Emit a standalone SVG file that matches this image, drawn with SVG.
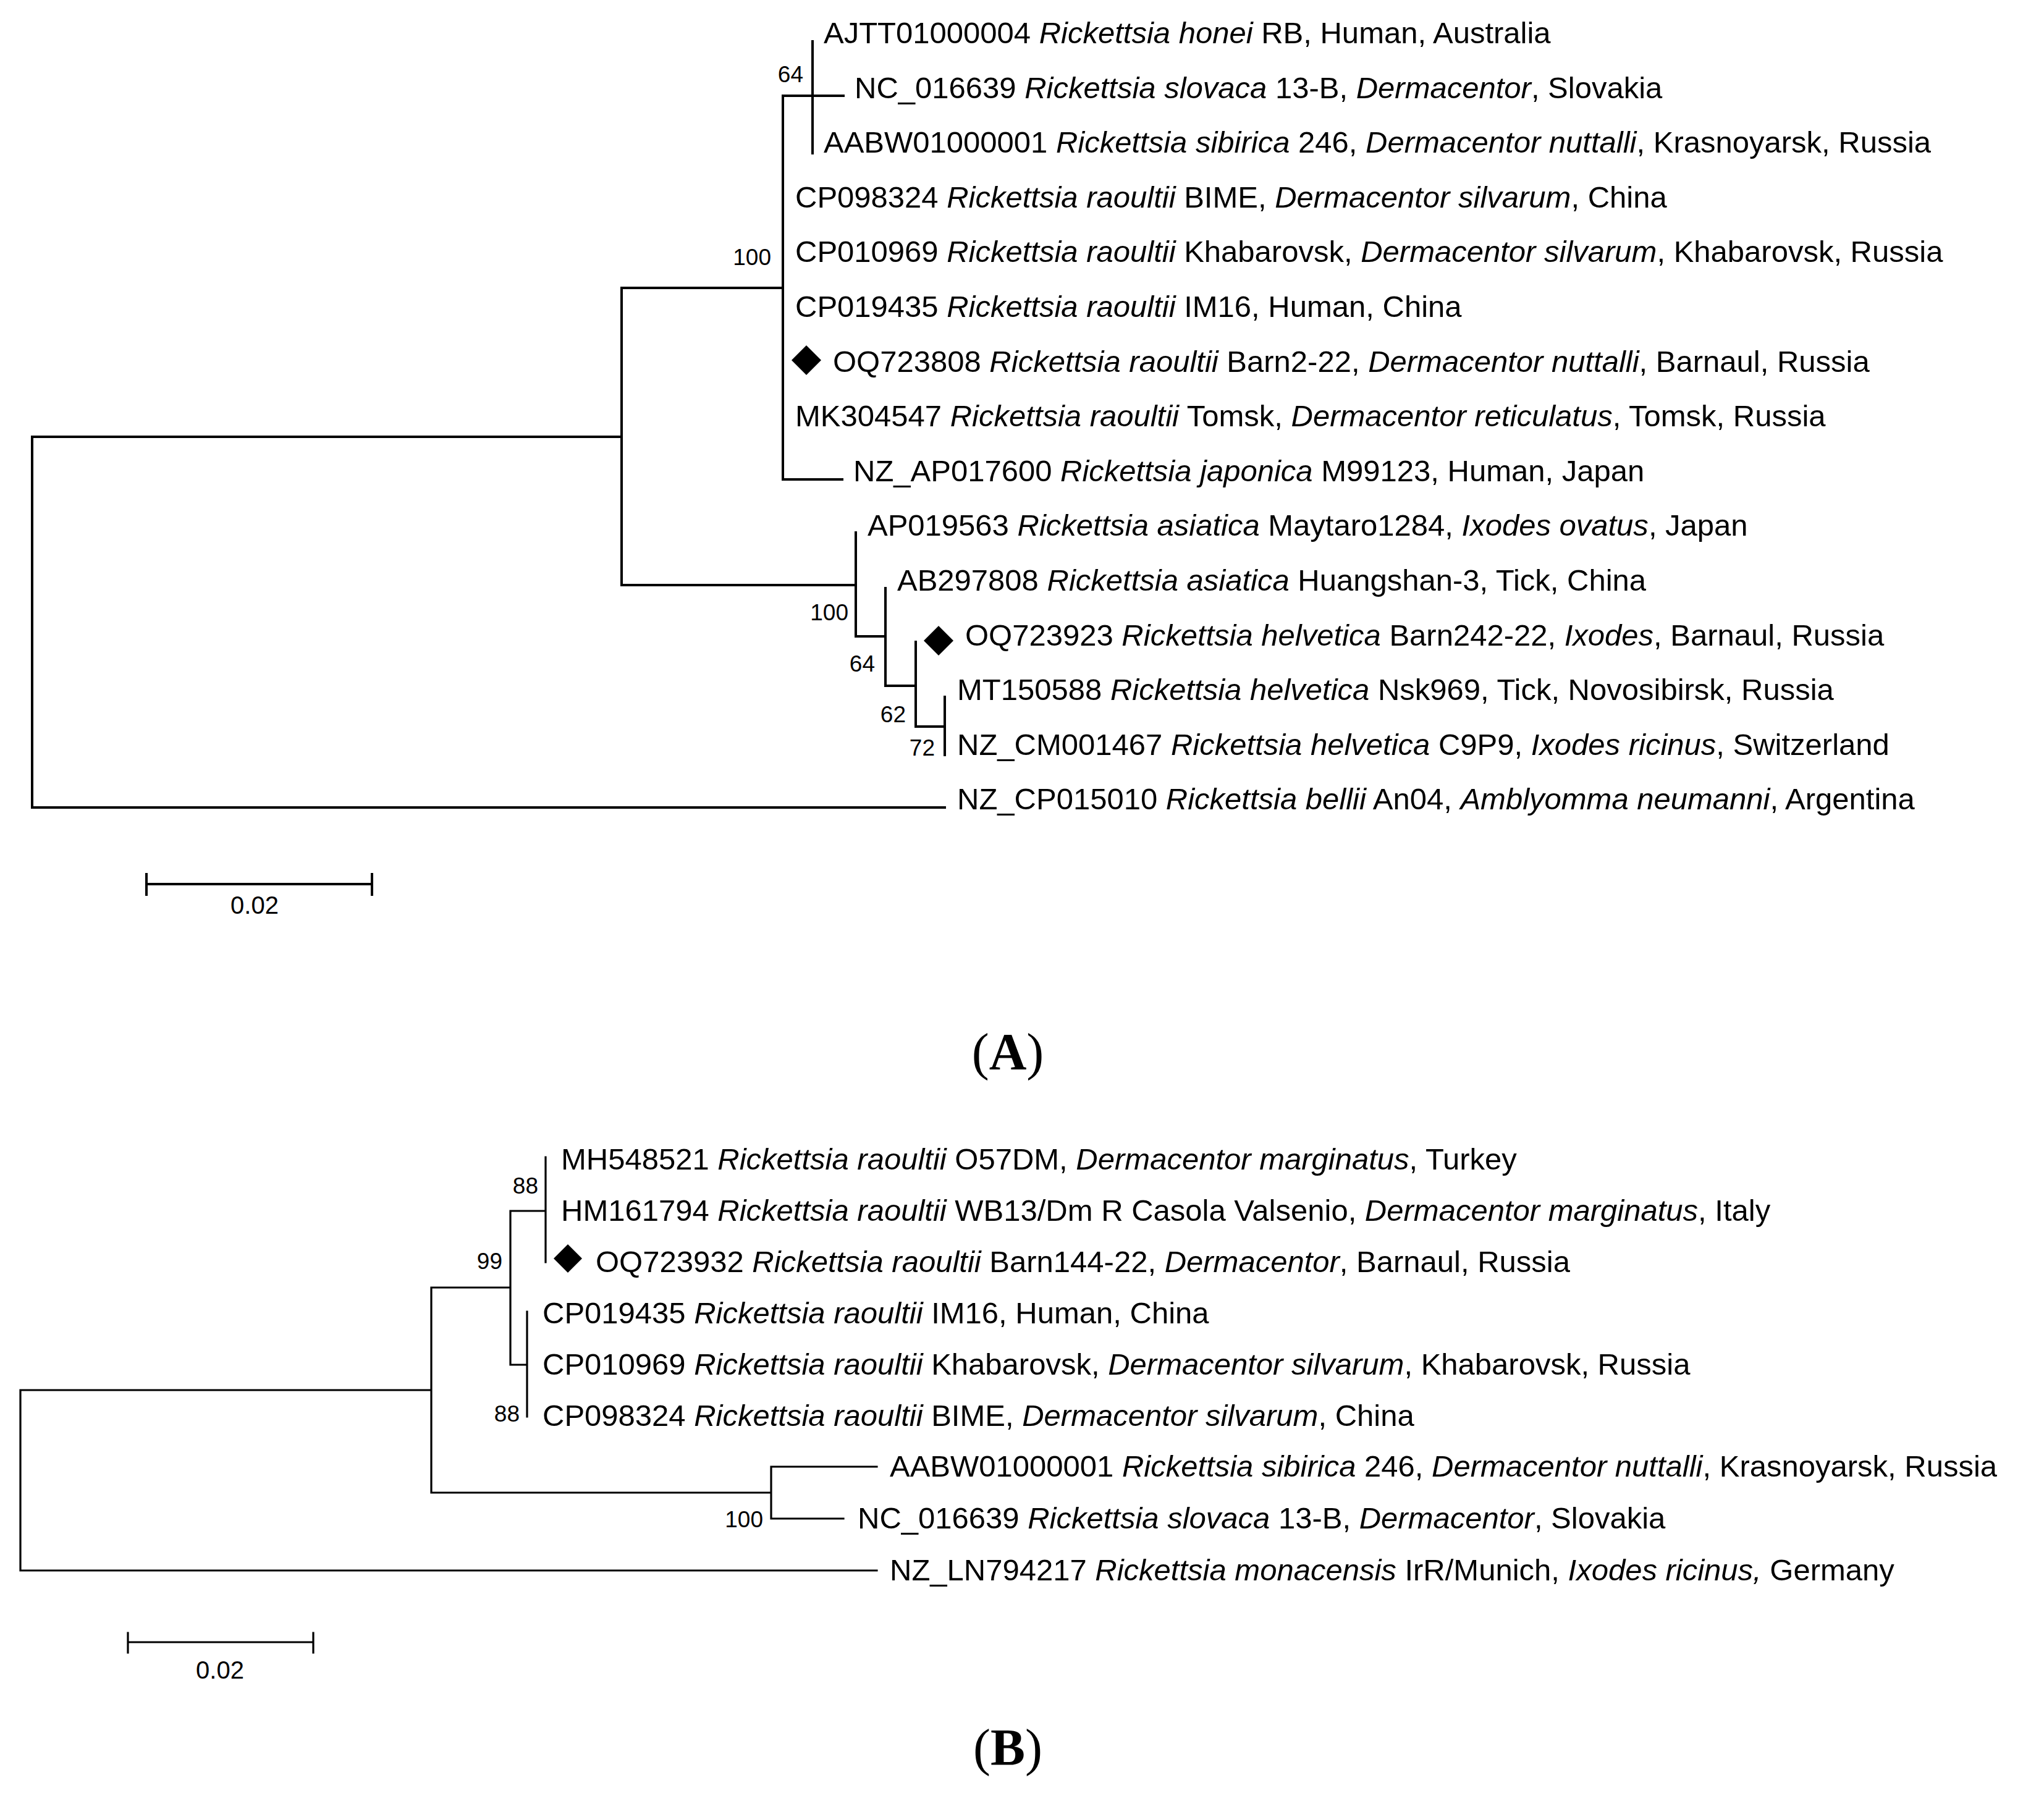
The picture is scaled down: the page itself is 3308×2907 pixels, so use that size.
<svg xmlns="http://www.w3.org/2000/svg" width="3308" height="2907" viewBox="0 0 3308 2907">
<style>
.t{font-family:"Liberation Sans",Arial,sans-serif;font-size:49px;fill:#000}
.i{font-style:italic}
.b{font-family:"Liberation Sans",Arial,sans-serif;font-size:37px;fill:#000;text-anchor:end}
.s{font-family:"Liberation Sans",Arial,sans-serif;font-size:40px;fill:#000;text-anchor:middle}
.p{font-family:"Liberation Serif","Times New Roman",serif;font-size:84px;fill:#000;text-anchor:middle}
.la{stroke:#000;stroke-width:4;fill:none;stroke-linecap:square}
.lb{stroke:#000;stroke-width:3.2;fill:none;stroke-linecap:square}
</style>
<rect width="3308" height="2907" fill="#fff"/>
<g id="connectors">
<path class="la" d="M52,707V1307H1529 M52,707H1006 M1006,466V947 M1006,466H1267 M1267,155V776H1363 M1267,155H1365 M1315,67V248 M1006,947H1385 M1385,862V1030H1433 M1433,952V1110H1482 M1482,1039V1176H1529 M1529,1128V1222"/>
<path class="la" d="M237,1431H602 M237,1415V1448 M602,1415V1448"/>
<path class="lb" d="M33,2250V2542H1419 M33,2250H698 M698,2084V2416 M698,2084H826 M826,1960V2209 M826,1960H883 M883,1873V2043 M826,2209H853 M853,2123V2293 M698,2416H1248 M1248,2374V2458 M1248,2374H1419 M1248,2458H1365"/>
<path class="lb" d="M207,2658H507 M207,2643V2675 M507,2643V2675"/>
</g>
<g id="panelA">
<g id="a0"><text class="t" x="1333" y="70">AJTT01000004 <tspan class="i">Rickettsia honei</tspan> RB, Human, Australia</text></g>
<g id="a1"><text class="t" x="1383" y="159">NC_016639 <tspan class="i">Rickettsia slovaca</tspan> 13-B, <tspan class="i">Dermacentor</tspan>, Slovakia</text></g>
<g id="a2"><text class="t" x="1333" y="247">AABW01000001 <tspan class="i">Rickettsia sibirica</tspan> 246, <tspan class="i">Dermacentor nuttalli</tspan>, Krasnoyarsk, Russia</text></g>
<g id="a3"><text class="t" x="1287" y="336">CP098324 <tspan class="i">Rickettsia raoultii</tspan> BIME, <tspan class="i">Dermacentor silvarum</tspan>, China</text></g>
<g id="a4"><text class="t" x="1287" y="424">CP010969 <tspan class="i">Rickettsia raoultii</tspan> Khabarovsk, <tspan class="i">Dermacentor silvarum</tspan>, Khabarovsk, Russia</text></g>
<g id="a5"><text class="t" x="1287" y="513">CP019435 <tspan class="i">Rickettsia raoultii</tspan> IM16, Human, China</text></g>
<g id="a6"><path d="M1305,559L1329,583L1305,607L1281,583Z" fill="#000"/><text class="t" x="1348" y="602">OQ723808 <tspan class="i">Rickettsia raoultii</tspan> Barn2-22, <tspan class="i">Dermacentor nuttalli</tspan>, Barnaul, Russia</text></g>
<g id="a7"><text class="t" x="1287" y="690">MK304547 <tspan class="i">Rickettsia raoultii</tspan> Tomsk, <tspan class="i">Dermacentor reticulatus</tspan>, Tomsk, Russia</text></g>
<g id="a8"><text class="t" x="1381" y="779">NZ_AP017600 <tspan class="i">Rickettsia japonica</tspan> M99123, Human, Japan</text></g>
<g id="a9"><text class="t" x="1404" y="867">AP019563 <tspan class="i">Rickettsia asiatica</tspan> Maytaro1284, <tspan class="i">Ixodes ovatus</tspan>, Japan</text></g>
<g id="a10"><text class="t" x="1452" y="956">AB297808 <tspan class="i">Rickettsia asiatica</tspan> Huangshan-3, Tick, China</text></g>
<g id="a11"><path d="M1519,1013L1543,1037L1519,1061L1495,1037Z" fill="#000"/><text class="t" x="1562" y="1045">OQ723923 <tspan class="i">Rickettsia helvetica</tspan> Barn242-22, <tspan class="i">Ixodes</tspan>, Barnaul, Russia</text></g>
<g id="a12"><text class="t" x="1549" y="1133">MT150588 <tspan class="i">Rickettsia helvetica</tspan> Nsk969, Tick, Novosibirsk, Russia</text></g>
<g id="a13"><text class="t" x="1549" y="1222">NZ_CM001467 <tspan class="i">Rickettsia helvetica</tspan> C9P9, <tspan class="i">Ixodes ricinus</tspan>, Switzerland</text></g>
<g id="a14"><text class="t" x="1549" y="1310">NZ_CP015010 <tspan class="i">Rickettsia bellii</tspan> An04, <tspan class="i">Amblyomma neumanni</tspan>, Argentina</text></g>
<g id="a-boot">
<text class="b" x="1300" y="133">64</text>
<text class="b" x="1248" y="429">100</text>
<text class="b" x="1373" y="1004">100</text>
<text class="b" x="1416" y="1087">64</text>
<text class="b" x="1466" y="1169">62</text>
<text class="b" x="1513" y="1223">72</text>
</g>
<text class="s" x="412" y="1479">0.02</text>
<text class="p" x="1631" y="1731">(<tspan font-weight="bold">A</tspan>)</text>
</g>
<g id="panelB">
<g id="b0"><text class="t" x="908" y="1893">MH548521 <tspan class="i">Rickettsia raoultii</tspan> O57DM, <tspan class="i">Dermacentor marginatus</tspan>, Turkey</text></g>
<g id="b1"><text class="t" x="908" y="1976">HM161794 <tspan class="i">Rickettsia raoultii</tspan> WB13/Dm R Casola Valsenio, <tspan class="i">Dermacentor marginatus</tspan>, Italy</text></g>
<g id="b2"><path d="M919,2014L942,2037L919,2060L896,2037Z" fill="#000"/><text class="t" x="964" y="2059">OQ723932 <tspan class="i">Rickettsia raoultii</tspan> Barn144-22, <tspan class="i">Dermacentor</tspan>, Barnaul, Russia</text></g>
<g id="b3"><text class="t" x="878" y="2142">CP019435 <tspan class="i">Rickettsia raoultii</tspan> IM16, Human, China</text></g>
<g id="b4"><text class="t" x="878" y="2225">CP010969 <tspan class="i">Rickettsia raoultii</tspan> Khabarovsk, <tspan class="i">Dermacentor silvarum</tspan>, Khabarovsk, Russia</text></g>
<g id="b5"><text class="t" x="878" y="2308">CP098324 <tspan class="i">Rickettsia raoultii</tspan> BIME, <tspan class="i">Dermacentor silvarum</tspan>, China</text></g>
<g id="b6"><text class="t" x="1440" y="2390">AABW01000001 <tspan class="i">Rickettsia sibirica</tspan> 246, <tspan class="i">Dermacentor nuttalli</tspan>, Krasnoyarsk, Russia</text></g>
<g id="b7"><text class="t" x="1388" y="2474">NC_016639 <tspan class="i">Rickettsia slovaca</tspan> 13-B, <tspan class="i">Dermacentor</tspan>, Slovakia</text></g>
<g id="b8"><text class="t" x="1440" y="2558">NZ_LN794217 <tspan class="i">Rickettsia monacensis</tspan> IrR/Munich, <tspan class="i">Ixodes ricinus,</tspan> Germany</text></g>
<g id="b-boot">
<text class="b" x="871" y="1932">88</text>
<text class="b" x="813" y="2054">99</text>
<text class="b" x="841" y="2301">88</text>
<text class="b" x="1235" y="2472">100</text>
</g>
<text class="s" x="356" y="2717">0.02</text>
<text class="p" x="1631" y="2857">(<tspan font-weight="bold">B</tspan>)</text>
</g>
</svg>
